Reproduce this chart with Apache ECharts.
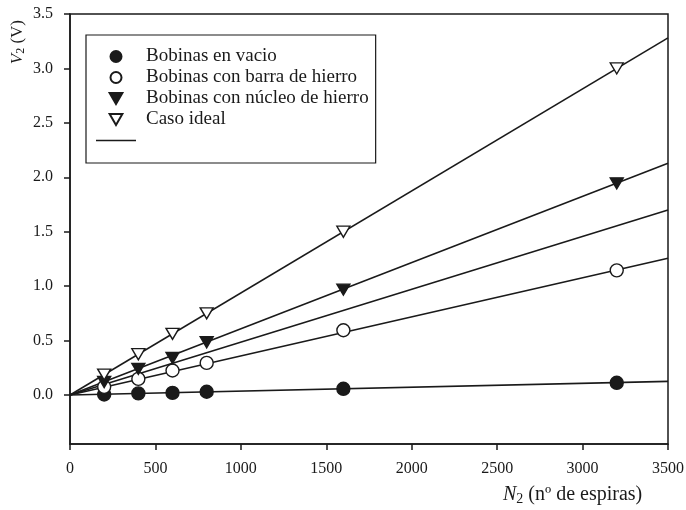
<!DOCTYPE html>
<html>
<head>
<meta charset="utf-8">
<script src="https://cdn.jsdelivr.net/npm/echarts@6/dist/echarts.min.js"></script>
<style>html,body{margin:0;padding:0;background:#fff;}#c{width:686px;height:510px;}</style>
</head>
<body>
<div id="c"></div>
<script>
// ---- data ----
var N2 = [200, 400, 600, 800, 1600, 3200];
var vacio = [0.005, 0.015, 0.02, 0.03, 0.057, 0.112];
var barra = [0.075, 0.148, 0.225, 0.295, 0.595, 1.145];
var nucleo = [0.12, 0.24, 0.34, 0.485, 0.968, 1.945];
var ideal = [0.1875, 0.375, 0.5625, 0.75, 1.5, 3.0];
var fitX = [0, 3500];
var fitVacio = [0, 0.125];
var fitBarra = [0, 1.257];
var fitMedio = [0, 1.70];
var fitNucleo = [0, 2.128];
var fitIdeal = [0, 3.281];
var yTicks = [0, 0.5, 1.0, 1.5, 2.0, 2.5, 3.0, 3.5];
var legendNames = ['Bobinas en vacio', 'Bobinas con barra de hierro', 'Bobinas con núcleo de hierro', 'Caso ideal', ' '];

function pairs(xs, ys) { return xs.map(function (x, i) { return [x, ys[i]]; }); }

var INK = '#1a1a1a';
var FONT = '"Liberation Serif", "Times New Roman", serif';
var DOWN = 'path://M0,0L2,0L1,1.732Z';

function fitLine(vals) {
  return {
    type: 'line', name: ' ', data: pairs(fitX, vals), symbol: 'none',
    lineStyle: { color: INK, width: 1.6 }, itemStyle: { color: INK }, z: 2, silent: true
  };
}
function scatter(name, ys, symbol, fill, size) {
  return {
    type: 'scatter', name: name, data: pairs(N2, ys), symbol: symbol, symbolSize: size,
    itemStyle: { color: fill, borderColor: INK, borderWidth: 1.4, opacity: 1 }, z: 5
  };
}

var legendData = legendNames.map(function (n) {
  return n === ' ' ? { name: n, icon: 'path://M0,0H40V1.6H0Z' } : { name: n };
});

var chart = echarts.init(document.getElementById('c'), null, { renderer: 'canvas' });
chart.setOption({
  animation: false,
  backgroundColor: '#fff',
  textStyle: { fontFamily: FONT },
  grid: { left: 70, right: 18, top: 14, bottom: 66, outerBoundsMode: 'none', containLabel: false,
    show: true, borderColor: INK, borderWidth: 1.5, backgroundColor: 'transparent' },
  xAxis: {
    type: 'value', min: 0, max: 3500, interval: 500,
    axisLine: { show: true, onZero: false, lineStyle: { color: INK, width: 1.5 } },
    axisTick: { show: true, inside: false, length: 6, lineStyle: { color: INK, width: 1.5 } },
    axisLabel: { color: INK, fontSize: 16, fontFamily: FONT, margin: 17,
      formatter: function (v) { return String(v); } },
    splitLine: { show: false }
  },
  yAxis: {
    type: 'value', min: -0.45, max: 3.5,
    axisLine: { show: true, onZero: false, lineStyle: { color: INK, width: 1.5 } },
    axisTick: { show: true, inside: false, length: 6, customValues: yTicks, lineStyle: { color: INK, width: 1.5 } },
    axisLabel: { color: INK, fontSize: 16, fontFamily: FONT, margin: 17, customValues: yTicks,
      formatter: function (v) { return v.toFixed(1); } },
    splitLine: { show: false }
  },
  legend: {
    orient: 'vertical', left: 86, top: 35,
    data: legendData,
    itemWidth: 40, itemHeight: 11, itemGap: 2,
    padding: [12, 7, 13, 10],
    borderColor: INK, borderWidth: 1.2, backgroundColor: '#fff',
    textStyle: { fontFamily: FONT, fontSize: 19, color: INK, lineHeight: 19, padding: [0, 0, 0, 5] },
    selectedMode: false
  },
  graphic: [
    {
      type: 'text', left: 9, top: 20, rotation: Math.PI / 2, z: 10,
      style: {
        rich: {
          i: { fontFamily: FONT, fontStyle: 'italic', fontSize: 17, fill: INK },
          s: { fontFamily: FONT, fontSize: 12, fill: INK, padding: [7, 0, 0, 0] },
          n: { fontFamily: FONT, fontSize: 17, fill: INK }
        },
        text: '{i|V}{s|2}{n| (V)}'
      }
    },
    {
      type: 'text', left: 503, top: 485, z: 10,
      style: {
        rich: {
          i: { fontFamily: FONT, fontStyle: 'italic', fontSize: 20, fill: INK },
          s: { fontFamily: FONT, fontSize: 14, fill: INK, padding: [8, 0, 0, 0] },
          n: { fontFamily: FONT, fontSize: 20, fill: INK }
        },
        text: '{i|N}{s|2}{n| (nº de espiras)}'
      }
    }
  ],
  series: [
    fitLine(fitVacio), fitLine(fitBarra), fitLine(fitMedio), fitLine(fitNucleo), fitLine(fitIdeal),
    scatter('Bobinas en vacio', vacio, 'circle', INK, 13),
    scatter('Bobinas con barra de hierro', barra, 'circle', '#fff', 13),
    scatter('Bobinas con núcleo de hierro', nucleo, DOWN, INK, [13, 11]),
    scatter('Caso ideal', ideal, DOWN, '#fff', [13, 11])
  ]
});
</script>
</body>
</html>
